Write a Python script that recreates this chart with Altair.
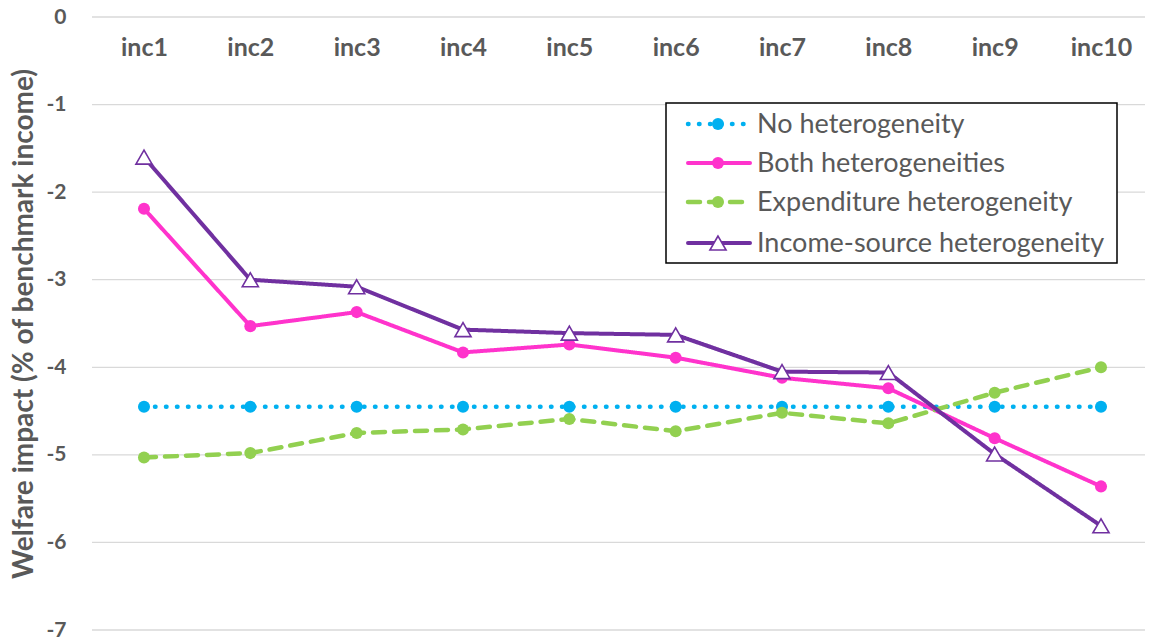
import altair as alt
import pandas as pd

categories = ["inc1", "inc2", "inc3", "inc4", "inc5", "inc6", "inc7", "inc8", "inc9", "inc10"]
series_names = ["No heterogeneity", "Both heterogeneities", "Expenditure heterogeneity", "Income-source heterogeneity"]
no_het = [-4.45, -4.45, -4.45, -4.45, -4.45, -4.45, -4.45, -4.45, -4.45, -4.45]
both_het = [-2.19, -3.53, -3.37, -3.83, -3.74, -3.89, -4.12, -4.24, -4.81, -5.36]
exp_het = [-5.03, -4.98, -4.75, -4.71, -4.59, -4.73, -4.52, -4.64, -4.29, -4.00]
inc_het = [-1.60, -3.00, -3.08, -3.57, -3.61, -3.63, -4.05, -4.06, -4.99, -5.81]
y_ticks = [0, -1, -2, -3, -4, -5, -6, -7]

values = [no_het, both_het, exp_het, inc_het]
colors = ["#00B0F0", "#FF33CC", "#92D050", "#7030A0"]
dashes = [[0.5, 10.5], [1, 0], [12, 9], [1, 0]]
widths = [4.5, 4, 4.5, 4]

FONT = "Lato"
GREY = "#595959"
W, H = 1053, 613

x_enc = alt.X("cat:N", sort=categories,
              scale=alt.Scale(type="point", range=[52, 1009], padding=0),
              axis=alt.Axis(orient="top", title=None, domain=False, ticks=False, grid=False,
                            labelFontSize=25, labelFontWeight="bold", labelColor=GREY,
                            labelFont=FONT, labelPadding=-30, labelBaseline="middle", labelAngle=0))
y_enc = alt.Y("val:Q", scale=alt.Scale(domain=[-7, 0], nice=False),
              axis=alt.Axis(values=y_ticks, title="Welfare impact (% of benchmark income)",
                            domain=False, ticks=False, grid=False,
                            labelFontSize=21, labelFontWeight="bold", labelColor=GREY, labelFont=FONT,
                            labelPadding=26, labelExpr="toString(datum.value)",
                            titleFontSize=28, titleFontWeight="bold",
                            titleColor=GREY, titleFont=FONT, titlePadding=7))

layers = []
# horizontal gridlines across the full plot width
grid_df = pd.DataFrame({"val": y_ticks})
layers.append(alt.Chart(grid_df).mark_rule(color="#D9D9D9", strokeWidth=1.3).encode(
    y="val:Q", x=alt.value(0), x2=alt.value(W)))

base_df = pd.DataFrame({"cat": categories, "val": no_het})
layers.append(alt.Chart(base_df).mark_point(opacity=0).encode(x=x_enc, y=y_enc))

for i, name in enumerate(series_names):
    df = pd.DataFrame({"cat": categories, "val": values[i]})
    ln = alt.Chart(df).mark_line(color=colors[i], strokeWidth=widths[i], strokeDash=dashes[i],
                                 strokeCap="round", strokeJoin="round").encode(
        x=alt.X("cat:N", sort=categories), y="val:Q")
    layers.append(ln)
    if i < 3:
        pt = alt.Chart(df).mark_point(shape="circle", filled=True, size=145, color=colors[i], opacity=1).encode(
            x=alt.X("cat:N", sort=categories), y="val:Q")
    else:
        pt = alt.Chart(df).mark_point(shape="triangle-up", filled=True, fill="white", stroke=colors[i],
                                      strokeWidth=1.6, size=260, opacity=1).encode(
            x=alt.X("cat:N", sort=categories), y="val:Q")
    layers.append(pt)

# custom legend
one = pd.DataFrame({"a": [0]})
layers.append(alt.Chart(one).mark_rect(fill="white", stroke="black", strokeWidth=1.5).encode(
    x=alt.value(574), x2=alt.value(1025), y=alt.value(86), y2=alt.value(246)))
row_y = [107, 146, 185, 226]
for i, name in enumerate(series_names):
    ldf = pd.DataFrame({"label": [name]})
    layers.append(alt.Chart(ldf).mark_rule(color=colors[i], strokeWidth=widths[i], strokeDash=dashes[i],
                                           strokeCap="round").encode(
        x=alt.value(596), x2=alt.value(658), y=alt.value(row_y[i])))
    if i < 3:
        layers.append(alt.Chart(ldf).mark_point(shape="circle", filled=True, size=145, color=colors[i],
                                                opacity=1).encode(x=alt.value(626), y=alt.value(row_y[i])))
    else:
        layers.append(alt.Chart(ldf).mark_point(shape="triangle-up", filled=True, fill="white", stroke=colors[i],
                                                strokeWidth=1.6, size=260, opacity=1).encode(
            x=alt.value(626), y=alt.value(row_y[i])))
    layers.append(alt.Chart(ldf).mark_text(align="left", baseline="middle", font=FONT, fontSize=27,
                                           color=GREY).encode(
        x=alt.value(665), y=alt.value(row_y[i] + 1), text="label:N"))

chart = alt.layer(*layers).properties(
    width=W, height=H,
    background="white",
    autosize=alt.AutoSizeParams(type="none"),
    padding={"left": 84, "top": 9, "right": 0, "bottom": 16},
).configure_view(strokeWidth=0)

chart.save("out.html", embed_options={"renderer": "svg", "actions": False})
